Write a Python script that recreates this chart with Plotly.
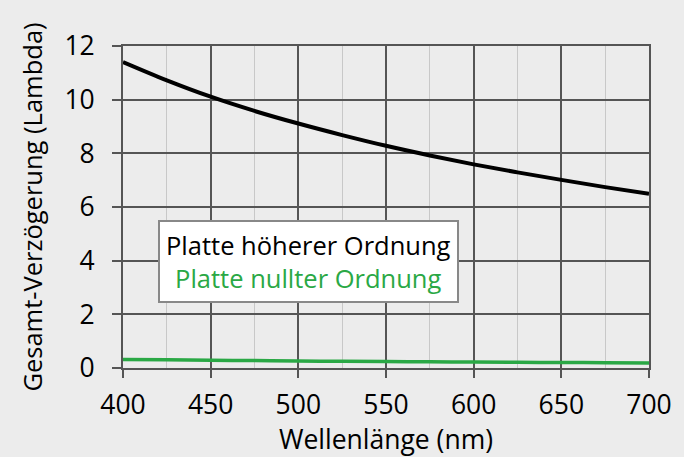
import plotly.graph_objects as go

wavelength = [400, 425, 450, 475, 500, 525, 550, 575, 600, 625, 650, 675, 700]
higher_order = [11.40, 10.72, 10.11, 9.58, 9.11, 8.68, 8.28, 7.92, 7.59, 7.29, 7.01, 6.74, 6.49]
zero_order = [0.32, 0.305, 0.29, 0.275, 0.26, 0.25, 0.24, 0.23, 0.22, 0.212, 0.205, 0.197, 0.19]

x_ticks = [400, 450, 500, 550, 600, 650, 700]
y_ticks = [0, 2, 4, 6, 8, 10, 12]

series_names = ["Platte höherer Ordnung", "Platte nullter Ordnung"]
x_title = "Wellenlänge (nm)"
y_title = "Gesamt-Verzögerung (Lambda)"

GREEN = "#2aa845"
BG = "#ececec"
GRID = "#555555"
FONT = "Open Sans"
FS = 26.5

fig = go.Figure()
fig.add_trace(go.Scatter(x=wavelength, y=higher_order, mode="lines",
                         line=dict(color="#000000", width=4, shape="spline"),
                         name=series_names[0], showlegend=False))
fig.add_trace(go.Scatter(x=wavelength, y=zero_order, mode="lines",
                         line=dict(color=GREEN, width=3.5, shape="spline"),
                         name=series_names[1], showlegend=False))

fig.add_annotation(
    x=505.6, y=3.98, xref="x", yref="y",
    text=f"{series_names[0]}<br><span style='color:{GREEN}'>{series_names[1]}</span>",
    showarrow=False, align="center", xanchor="center", yanchor="middle",
    font=dict(family=FONT, size=25.5, color="#000000"),
    bgcolor="#ffffff", bordercolor="#888888", borderwidth=2, borderpad=6,
)

fig.update_layout(
    width=684, height=457,
    paper_bgcolor=BG, plot_bgcolor=BG,
    margin=dict(l=123, r=35, t=46, b=89, autoexpand=False),
    font=dict(family=FONT, size=FS, color="#000000"),
    xaxis=dict(
        range=[400, 700], tickvals=x_ticks, ticktext=[str(v) for v in x_ticks],
        showgrid=True, gridcolor=GRID, gridwidth=1.5,
        minor=dict(dtick=25, tick0=400, showgrid=True, gridcolor="#c8c8c8", gridwidth=1, ticks=""),
        ticks="outside", ticklen=8, tickwidth=1.5, tickcolor=GRID,
        ticklabelstandoff=4,
        showline=True, linecolor=GRID, linewidth=2, mirror=True,
        zeroline=False,
        tickfont=dict(family=FONT, size=FS),
        title=dict(text=x_title, font=dict(family=FONT, size=FS), standoff=0),
    ),
    yaxis=dict(
        range=[0, 12], tickvals=y_ticks, ticktext=[str(v) for v in y_ticks],
        showgrid=True, gridcolor=GRID, gridwidth=1.5,
        ticks="outside", ticklen=9, tickwidth=1.5, tickcolor=GRID,
        ticklabelstandoff=12,
        showline=True, linecolor=GRID, linewidth=2, mirror=True,
        zeroline=False,
        tickfont=dict(family=FONT, size=FS),
        title=dict(text=y_title, font=dict(family=FONT, size=25.5), standoff=14),
    ),
)

fig.write_html("out.html", config={"displayModeBar": False},
               post_script="document.body.style.margin='0';document.body.style.background='#ececec';")
